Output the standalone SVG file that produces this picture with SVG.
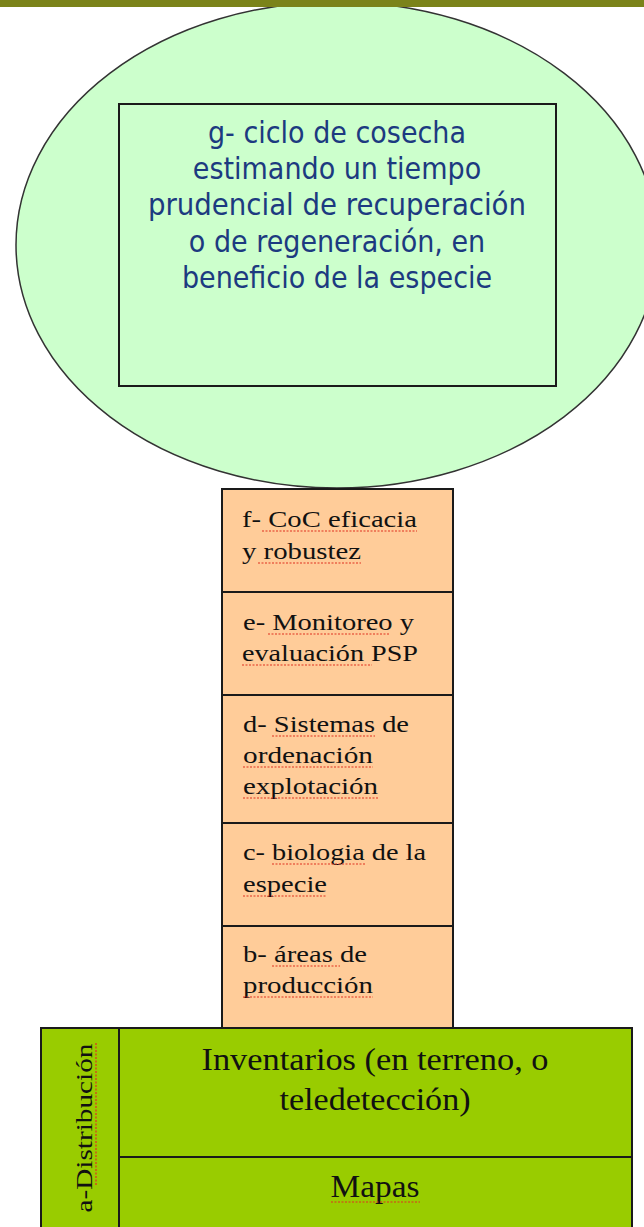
<svg xmlns="http://www.w3.org/2000/svg" width="644" height="1227" viewBox="0 0 644 1227">
<style>
.box{stroke:#1a1a1a;stroke-width:2}
.g{font-family:"DejaVu Sans Condensed","DejaVu Sans",sans-serif;font-size:30px;fill:#1C3A80;text-anchor:middle}
.t{font-family:"Liberation Serif",serif;font-size:24px;fill:#111}
.b{font-family:"Liberation Serif",serif;font-size:32px;fill:#111;text-anchor:middle}
.sq{stroke:#E03020;stroke-width:1.2;fill:none;stroke-dasharray:2 1.5}
</style>
<rect x="0" y="0" width="644" height="1227" fill="#ffffff"/>
<g id="node-g">
<ellipse cx="337" cy="245" rx="321" ry="243" fill="#CCFFCC" stroke="#333" stroke-width="1.5"/>
<rect class="box" x="119" y="104" width="437" height="282" fill="none"/>
<text class="g" x="337" y="143">g- ciclo de cosecha</text>
<text class="g" x="337" y="179">estimando un tiempo</text>
<text class="g" x="337" y="215" textLength="378" lengthAdjust="spacingAndGlyphs">prudencial de recuperación</text>
<text class="g" x="337" y="252">o de regeneración, en</text>
<text class="g" x="337" y="288">beneficio de la especie</text>
</g>
<rect id="topbar" x="0" y="0" width="644" height="7" fill="#7B831A"/>
<g id="node-f">
<rect class="box" x="222" y="489" width="231" height="103" fill="#FFCC99"/>
<text class="t" x="242" y="527" textLength="175" lengthAdjust="spacingAndGlyphs">f- CoC eficacia</text>
<text class="t" x="242" y="559" textLength="119" lengthAdjust="spacingAndGlyphs">y robustez</text>
<path class="sq" d="M262 531H417M258 563H361"/>
</g>
<g id="node-e">
<rect class="box" x="222" y="592" width="231" height="103" fill="#FFCC99"/>
<text class="t" x="243" y="630" textLength="171" lengthAdjust="spacingAndGlyphs">e- Monitoreo y</text>
<text class="t" x="242" y="661" textLength="176" lengthAdjust="spacingAndGlyphs">evaluación PSP</text>
<path class="sq" d="M268 634H390M242 665H372"/>
</g>
<g id="node-d">
<rect class="box" x="222" y="695" width="231" height="128" fill="#FFCC99"/>
<text class="t" x="243" y="732" textLength="166" lengthAdjust="spacingAndGlyphs">d- Sistemas de</text>
<text class="t" x="243" y="763" textLength="130" lengthAdjust="spacingAndGlyphs">ordenación</text>
<text class="t" x="243" y="794" textLength="135" lengthAdjust="spacingAndGlyphs">explotación</text>
<path class="sq" d="M272 736H375M243 767H373M243 798H378"/>
</g>
<g id="node-c">
<rect class="box" x="222" y="823" width="231" height="103" fill="#FFCC99"/>
<text class="t" x="243" y="860" textLength="183" lengthAdjust="spacingAndGlyphs">c- biologia de la</text>
<text class="t" x="243" y="892" textLength="84" lengthAdjust="spacingAndGlyphs">especie</text>
<path class="sq" d="M272 864H365M243 896H327"/>
</g>
<g id="node-b">
<rect class="box" x="222" y="926" width="231" height="102" fill="#FFCC99"/>
<text class="t" x="243" y="962" textLength="124" lengthAdjust="spacingAndGlyphs">b- áreas de</text>
<text class="t" x="243" y="993" textLength="130" lengthAdjust="spacingAndGlyphs">producción</text>
<path class="sq" d="M272 966H340M243 997H373"/>
</g>
<g id="node-a">
<rect class="box" x="41" y="1028" width="591" height="210" fill="#99CC00"/>
<line class="box" x1="119" y1="1028" x2="119" y2="1238"/>
<line class="box" x1="119" y1="1157" x2="632" y2="1157"/>
<text class="b" x="375" y="1070" textLength="347" lengthAdjust="spacingAndGlyphs">Inventarios (en terreno, o</text>
<text class="b" x="375" y="1110" textLength="191" lengthAdjust="spacingAndGlyphs">teledetección)</text>
<text class="b" x="375" y="1197" textLength="89" lengthAdjust="spacingAndGlyphs">Mapas</text>
<path class="sq" d="M331 1202H420"/>
<text class="t" transform="translate(92,1128) rotate(-90)" text-anchor="middle" font-size="24" textLength="169" lengthAdjust="spacingAndGlyphs">a-Distribución</text>
<path class="sq" d="M96 1043V1185"/>
</g>
</svg>
